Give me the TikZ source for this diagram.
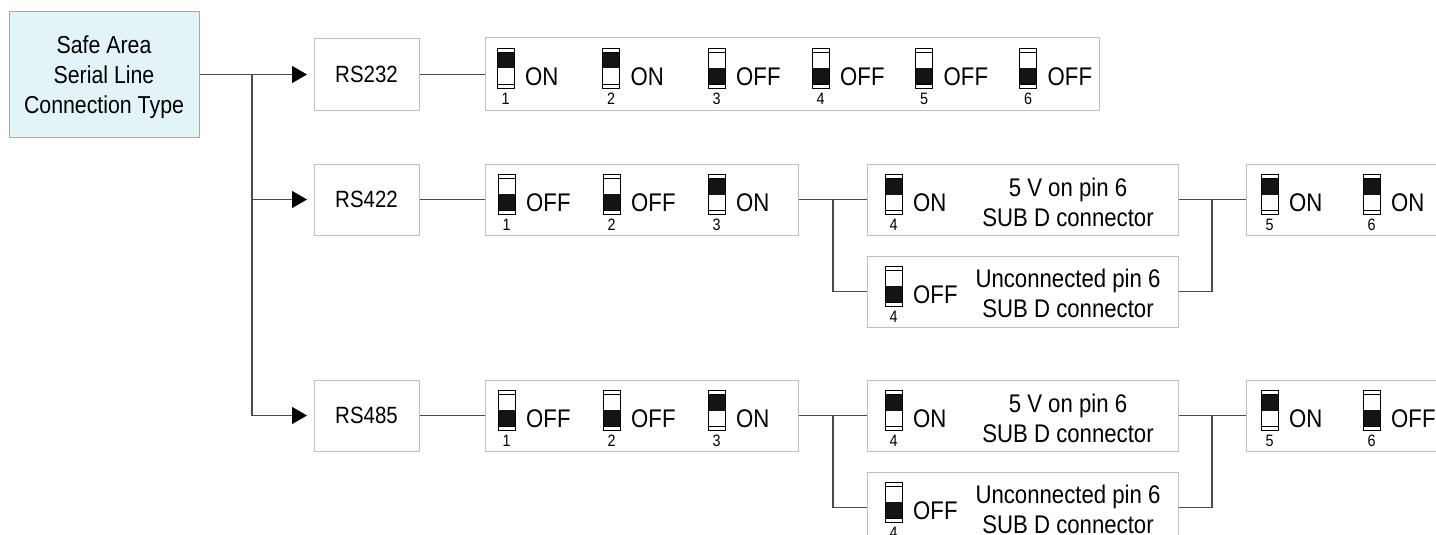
\documentclass[tikz,border=0pt]{standalone}
\usepackage{fontspec}
\setmainfont[FakeStretch=0.87]{Liberation Sans}
\usetikzlibrary{arrows.meta}
\definecolor{boxgray}{HTML}{BFBFBF}
\definecolor{safefill}{HTML}{E3F4F8}
\definecolor{safeborder}{HTML}{A8A8A8}
\definecolor{conncol}{HTML}{4A4A4A}
\definecolor{swblack}{HTML}{141414}
\tikzset{
  grbox/.style={draw=boxgray, line width=1pt, fill=white, inner sep=0pt},
  safebox/.style={draw=safeborder, line width=1pt, fill=safefill, inner sep=0pt},
  conn/.style={draw=conncol, line width=1.2pt},
  arr/.style={conn, -{Triangle[length=15pt,width=17pt,color=black]}, shorten >=6.5pt},
  swline/.style={draw=black, line width=0.9pt},
  swtxt/.style={inner sep=0pt, font=\fontsize{25.5}{30}\selectfont},
  numtxt/.style={inner sep=0pt, font=\fontsize{16.5}{18}\selectfont},
  bigtxt/.style={inner sep=0pt, font=\fontsize{24.5}{30}\selectfont},
  boxtxt/.style={inner sep=0pt, font=\fontsize{25.5}{30}\selectfont},
}
\newcommand\dipsw[5]{%
  \begin{scope}[shift={(#1,#2+10.5)}]
    \fill[white] (0,0) rectangle (17,39.5);
    \ifnum#3=1 \fill[swblack] (0,4) rectangle (17,20);\else \fill[swblack] (0,19.5) rectangle (17,35.5);\fi
    \draw[swline] (0,4) -- (17,4) (0,35.5) -- (17,35.5);
    \draw[swline] (0,0) rectangle (17,39.5);
    \node[numtxt, anchor=base] at (8.5,56) {#4};
    \node[swtxt, anchor=base west] at (28,36.5) {#5};
  \end{scope}}
\begin{document}
\begin{tikzpicture}[x=1pt,y=-1pt]
\fill[white] (0,0) rectangle (1436,535);
\useasboundingbox (0,0) rectangle (1436,535);

% left box
\node[safebox, minimum width=190pt, minimum height=125pt] (safe) at (104,74.5) {};
\node[bigtxt, align=center] (safetxt) at (104,77.6) {Safe Area\\Serial Line\\Connection Type};

% RS boxes
\node[grbox, minimum width=105pt, minimum height=71pt, font=\fontsize{23.5}{28}\selectfont] (rs232) at (366.5,74.5) {RS232};
\node[grbox, minimum width=105pt, minimum height=71pt, font=\fontsize{23.5}{28}\selectfont] (rs422) at (366.5,199.5) {RS422};
\node[grbox, minimum width=105pt, minimum height=71pt, font=\fontsize{23.5}{28}\selectfont] (rs485) at (366.5,415.5) {RS485};

% switch boxes
\node[grbox, minimum width=614pt, minimum height=72pt] (sw232) at (792,74) {};
\node[grbox, minimum width=313pt, minimum height=71pt] (sw422) at (641.5,199.5) {};
\node[grbox, minimum width=313pt, minimum height=71pt] (sw485) at (641.5,415.5) {};

\node[grbox, minimum width=311pt, minimum height=71pt] (vfa) at (1022.5,199.5) {};
\node[grbox, minimum width=311pt, minimum height=71pt] (unca) at (1022.5,291.5) {};
\node[grbox, minimum width=311pt, minimum height=71pt] (vfb) at (1022.5,415.5) {};
\node[grbox, minimum width=311pt, minimum height=71pt] (uncb) at (1022.5,507.5) {};

\node[grbox, minimum width=204pt, minimum height=71pt] (rta) at (1348,199.5) {};
\node[grbox, minimum width=204pt, minimum height=71pt] (rtb) at (1348,415.5) {};

% connectors
\coordinate (j0) at (252,74.5);
\draw[arr] (safe.east) -- (rs232.west);
\draw[arr] (j0) |- (rs422.west);
\draw[arr] (j0) |- (rs485.west);
\draw[conn] (rs232.east) -- (sw232.west |- rs232.east);
\draw[conn] (rs422.east) -- (sw422.west);
\draw[conn] (rs485.east) -- (sw485.west);

\coordinate (ja) at (833,199.5);
\coordinate (jb) at (833,415.5);
\draw[conn] (sw422.east) -- (vfa.west);
\draw[conn] (ja) |- (unca.west);
\draw[conn] (sw485.east) -- (vfb.west);
\draw[conn] (jb) |- (uncb.west);

\coordinate (ka) at (1212,199.5);
\coordinate (kb) at (1212,415.5);
\draw[conn] (vfa.east) -- (rta.west);
\draw[conn] (unca.east) -| (ka);
\draw[conn] (vfb.east) -- (rtb.west);
\draw[conn] (uncb.east) -| (kb);

% RS232 switches
\dipsw{497}{38}{1}{1}{ON}
\dipsw{602.5}{38}{1}{2}{ON}
\dipsw{708}{38}{0}{3}{OFF}
\dipsw{812}{38}{0}{4}{OFF}
\dipsw{915.5}{38}{0}{5}{OFF}
\dipsw{1019.5}{38}{0}{6}{OFF}

% RS422 switches
\dipsw{498}{164}{0}{1}{OFF}
\dipsw{603}{164}{0}{2}{OFF}
\dipsw{708}{164}{1}{3}{ON}
\dipsw{885}{164}{1}{4}{ON}
\dipsw{885}{256}{0}{4}{OFF}
\dipsw{1261}{164}{1}{5}{ON}
\dipsw{1363}{164}{1}{6}{ON}

% RS485 switches
\dipsw{498}{380}{0}{1}{OFF}
\dipsw{603}{380}{0}{2}{OFF}
\dipsw{708}{380}{1}{3}{ON}
\dipsw{885}{380}{1}{4}{ON}
\dipsw{885}{472}{0}{4}{OFF}
\dipsw{1261}{380}{1}{5}{ON}
\dipsw{1363}{380}{0}{6}{OFF}

% box texts
\node[boxtxt, anchor=base] (ta1) at (1068,196.5) {5 V on pin 6};
\node[boxtxt, anchor=base] (ta2) at (1068,226.5) {SUB D connector};
\node[boxtxt, anchor=base] (tb1) at (1068,287.5) {Unconnected pin 6};
\node[boxtxt, anchor=base] (tb2) at (1068,317.5) {SUB D connector};
\node[boxtxt, anchor=base] (tc1) at (1068,412.5) {5 V on pin 6};
\node[boxtxt, anchor=base] (tc2) at (1068,442.5) {SUB D connector};
\node[boxtxt, anchor=base] (td1) at (1068,503.5) {Unconnected pin 6};
\node[boxtxt, anchor=base] (td2) at (1068,533.5) {SUB D connector};
\end{tikzpicture}
\end{document}
